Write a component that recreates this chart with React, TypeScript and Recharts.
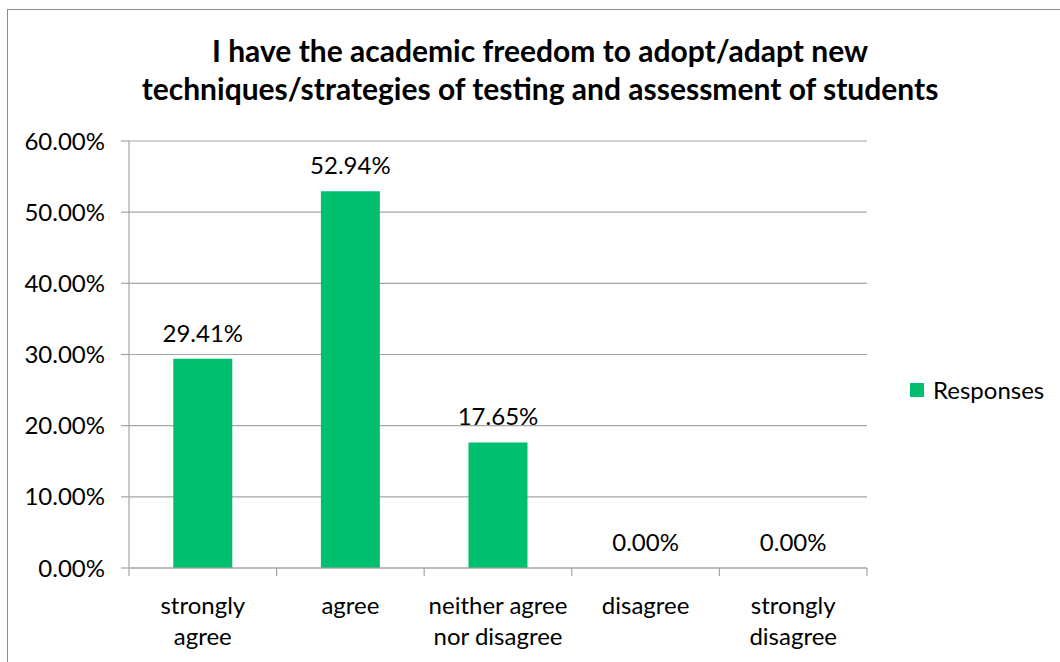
import React from "react";
import { ComposedChart, Bar, Line, XAxis, YAxis, CartesianGrid, LabelList, Legend } from "recharts";

const categories = ["strongly agree", "agree", "neither agree nor disagree", "disagree", "strongly disagree"];
const tickLines = [["strongly", "agree"], ["agree"], ["neither agree", "nor disagree"], ["disagree"], ["strongly", "disagree"]];
const responses = [29.41, 52.94, 17.65, 0, 0];
const yTicks = [0, 10, 20, 30, 40, 50, 60];
const boundaryTicks = [-0.5, 0.5, 1.5, 2.5, 3.5, 4.5];
const title = ["I have the academic freedom to adopt/adapt new", "techniques/strategies of testing and assessment of students"];
const seriesName = "Responses";

const data = categories.map((c, i) => ({ name: c, idx: i, value: responses[i] }));

const FONT = "Lato, 'Open Sans', sans-serif";
const GREEN = "#00BF6F";
const GRID = "#A6A6A6";
const FS = 24;

const CatTick = (props: any) => {
  const { x, y, payload } = props;
  const i = categories.indexOf(payload.value);
  const lines = tickLines[i] || [payload.value];
  return (
    <text x={x} y={y} textAnchor="middle" fontFamily={FONT} fontSize={FS} fill="#000">
      {lines.map((l: string, k: number) => (
        <tspan key={k} x={x} dy={k === 0 ? 37 : 31}>{l}</tspan>
      ))}
    </text>
  );
};

const EmptyTick = () => <g />;

const ValueLabel = (props: any) => {
  const { x, y, value } = props;
  return (
    <text x={x} y={y - 17} textAnchor="middle" fontFamily={FONT} fontSize={FS} fill="#000">
      {Number(value).toFixed(2) + "%"}
    </text>
  );
};

const LegendContent = () => (
  <div style={{ display: "flex", alignItems: "center", fontFamily: FONT, fontSize: FS, color: "#000" }}>
    <div style={{ width: 14, height: 14, background: GREEN, marginRight: 9 }} />
    <span>{seriesName}</span>
  </div>
);

export default function App() {
  return (
    <div style={{ position: "absolute", left: 0, top: 0, width: 1060, height: 662, background: "#fff", overflow: "hidden" }}>
      <div style={{ position: "absolute", left: 7, top: 9, width: 1, height: 653, background: "#8c8c8c" }} />
      <div style={{ position: "absolute", left: 7, top: 9, width: 1053, height: 1, background: "#8c8c8c" }} />
      <div style={{ position: "absolute", left: 0, width: 1080, top: 31, textAlign: "center", fontFamily: FONT, fontWeight: 700, fontSize: 30, lineHeight: "38px", color: "#000" }}>
        {title.map((t, i) => <div key={i}>{t}</div>)}
      </div>
      <div style={{ position: "absolute", left: 0, top: 0 }}>
        <ComposedChart width={1060} height={662} data={data} margin={{ top: 141, right: 43, bottom: 0, left: 0 }} barCategoryGap="30%">
          <CartesianGrid vertical={false} stroke={GRID} strokeWidth={1.2} />
          <XAxis xAxisId="b" dataKey="idx" type="number" domain={[-0.5, 4.5]} allowDataOverflow ticks={boundaryTicks} interval={0} tick={<EmptyTick />} tickSize={8} height={1} axisLine={{ stroke: GRID, strokeWidth: 1.2 }} tickLine={{ stroke: GRID, strokeWidth: 1.2 }} />
          <XAxis xAxisId="cat" dataKey="name" tickLine={false} axisLine={false} tick={<CatTick />} interval={0} height={93} />
          <YAxis domain={[0, 60]} ticks={yTicks} width={129} tickSize={8} tickMargin={16} tickFormatter={(v: number) => v.toFixed(2) + "%"} tick={{ fontFamily: FONT, fontSize: FS, fill: "#000" }} axisLine={{ stroke: GRID, strokeWidth: 1.2 }} tickLine={{ stroke: GRID, strokeWidth: 1.2 }} />
          <Legend layout="horizontal" verticalAlign="middle" align="right" content={<LegendContent />} wrapperStyle={{ position: "absolute", left: 910, top: 375, width: 150 }} />
          <Bar xAxisId="cat" dataKey="value" name={seriesName} fill={GREEN} isAnimationActive={false} />
          <Line xAxisId="b" dataKey="value" stroke="none" dot={false} activeDot={false} legendType="none" isAnimationActive={false}>
            <LabelList dataKey="value" content={<ValueLabel />} />
          </Line>
        </ComposedChart>
      </div>
    </div>
  );
}
